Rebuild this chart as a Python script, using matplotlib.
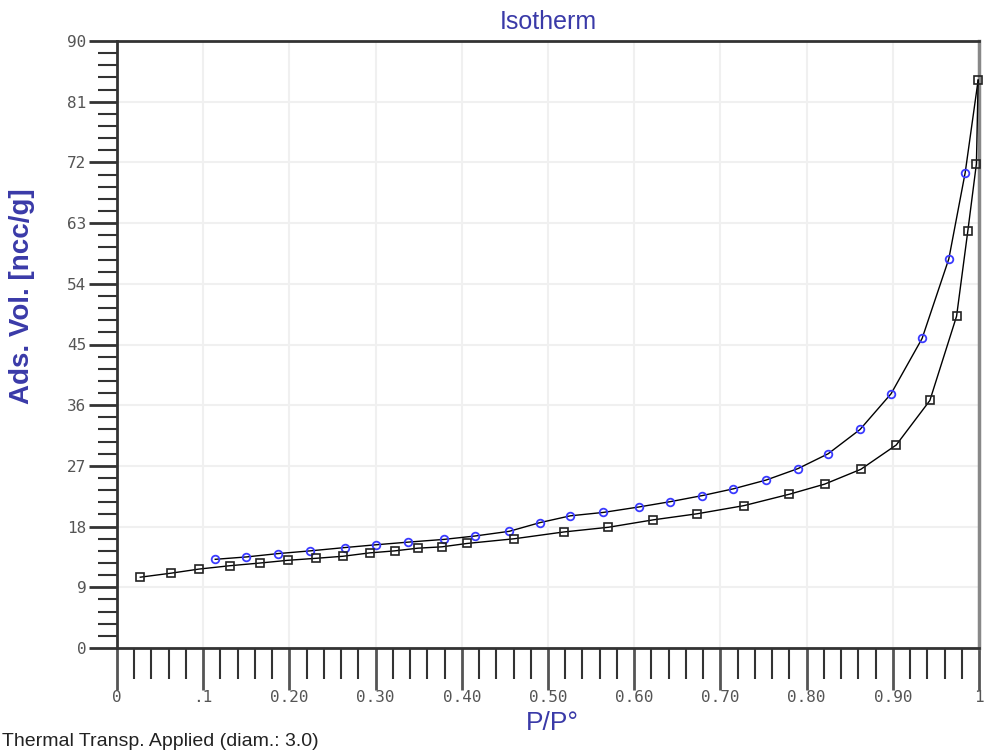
import matplotlib
matplotlib.use("Agg")
import matplotlib.pyplot as plt
from matplotlib.ticker import MultipleLocator, FixedLocator

# Adsorption branch (black squares)
ads_p = [0.027, 0.063, 0.095, 0.131, 0.166, 0.198, 0.231, 0.262, 0.293, 0.322,
         0.349, 0.377, 0.406, 0.461, 0.518, 0.570, 0.622, 0.673, 0.727, 0.780,
         0.821, 0.863, 0.904, 0.943, 0.974, 0.987, 0.997, 0.999]
ads_v = [10.5, 11.1, 11.7, 12.2, 12.6, 13.0, 13.3, 13.6, 14.1, 14.4,
         14.8, 15.0, 15.5, 16.2, 17.2, 17.9, 19.0, 19.9, 21.1, 22.8,
         24.3, 26.5, 30.1, 36.7, 49.2, 61.8, 71.8, 84.2]

# Desorption branch (blue circles)
des_p = [0.999, 0.984, 0.965, 0.934, 0.898, 0.862, 0.825, 0.790, 0.753, 0.715,
         0.679, 0.642, 0.605, 0.564, 0.526, 0.491, 0.455, 0.415, 0.379, 0.338,
         0.300, 0.265, 0.224, 0.187, 0.150, 0.114]
des_v = [84.2, 70.5, 57.7, 45.9, 37.7, 32.4, 28.8, 26.6, 24.9, 23.6,
         22.6, 21.7, 20.9, 20.1, 19.6, 18.6, 17.3, 16.6, 16.1, 15.7,
         15.3, 14.9, 14.4, 14.0, 13.5, 13.15]

y_ticks = [0, 9, 18, 27, 36, 45, 54, 63, 72, 81, 90]
x_ticks = [0, 0.1, 0.2, 0.3, 0.4, 0.5, 0.6, 0.7, 0.8, 0.9, 1.0]
x_tick_labels = ["0", ".1", "0.20", "0.30", "0.40", "0.50", "0.60", "0.70", "0.80", "0.90", "1"]

W, H = 986, 756
fig = plt.figure(figsize=(W / 100, H / 100), dpi=100)
L, R, T, B = 117, 979, 41, 648
ax = fig.add_axes([L / W, 1 - B / H, (R - L) / W, (B - T) / H])

ax.plot(des_p, des_v, color="black", lw=1.0, marker="o", ms=5.5,
        mfc="none", mec="#3a3aff", mew=1.3, zorder=3, clip_on=False,
        markevery=list(range(1, len(des_p))))
ax.plot(ads_p, ads_v, color="black", lw=1.0, marker="s", ms=5.5,
        mfc="none", mec="#222222", mew=1.2, zorder=4, clip_on=False)

ax.set_xlim(0, 1)
ax.set_ylim(0, 90)
ax.xaxis.set_major_locator(FixedLocator(x_ticks))
ax.set_xticklabels(x_tick_labels)
ax.xaxis.set_minor_locator(MultipleLocator(0.02))
ax.yaxis.set_major_locator(FixedLocator(y_ticks))
ax.yaxis.set_minor_locator(MultipleLocator(1.8))

ax.grid(True, which="major", color="#f0f0f0", lw=1.5, zorder=0)
ax.set_axisbelow(True)

mono = "DejaVu Sans Mono"
ax.tick_params(axis="x", which="major", direction="out", length=30, width=2,
               color="#555555", labelsize=11.5, labelcolor="#555555", pad=0)
ax.tick_params(axis="x", which="minor", direction="out", length=22, width=1.5,
               color="#333333")
ax.tick_params(axis="y", which="major", direction="out", length=20, width=2,
               color="#333333", labelsize=11.5, labelcolor="#555555", pad=2)
ax.tick_params(axis="y", which="minor", direction="out", length=14, width=1.5,
               color="#333333")
for lab in ax.get_xticklabels() + ax.get_yticklabels():
    lab.set_fontfamily(mono)

for s in ["left", "bottom", "top"]:
    ax.spines[s].set_color("#333333")
    ax.spines[s].set_linewidth(2)
ax.spines["right"].set_color("#888888")
ax.spines["right"].set_linewidth(2.5)

blue = "#3a3aa8"
fig.text((L + R) / 2 / W, 1 - 22 / H, "Isotherm", color=blue, fontsize=18,
         family="Liberation Sans", ha="center", va="center")
fig.text(22 / W, 1 - 296 / H, "Ads. Vol. [ncc/g]", color=blue, fontsize=20,
         fontweight="bold", family="Liberation Sans", rotation=90,
         ha="center", va="center")
fig.text(552 / W, 1 - 723 / H, "P/P°", color=blue, fontsize=19,
         family="Liberation Sans", ha="center", va="center")
fig.text(2 / W, 1 - 742 / H, "Thermal Transp. Applied (diam.: 3.0)", color="#222222",
         fontsize=14, family="Liberation Sans", ha="left", va="center")

fig.savefig("out.png", dpi=100)
